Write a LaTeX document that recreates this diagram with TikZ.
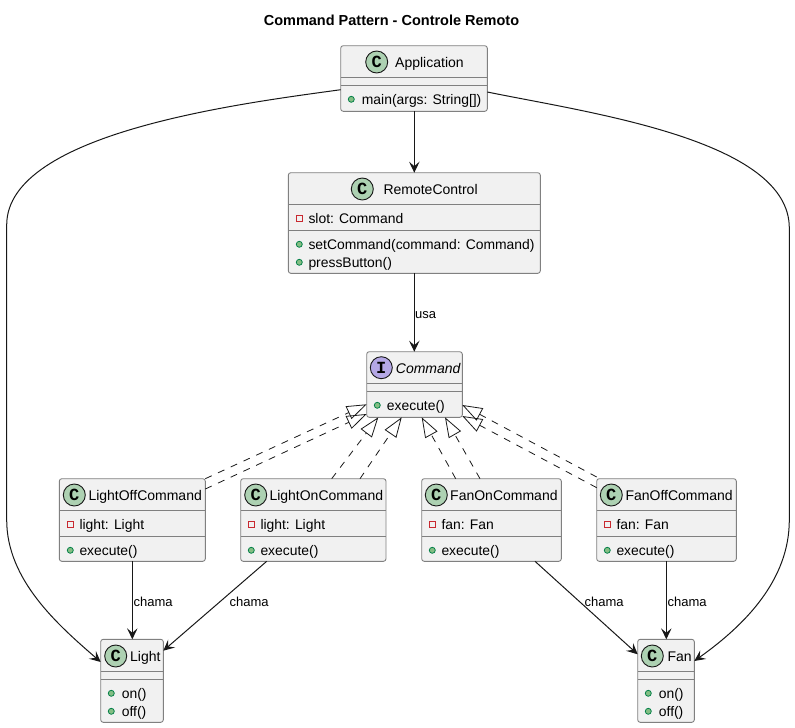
\documentclass[tikz,border=0pt]{standalone}
\usepackage{fontspec}
\setmainfont{Liberation Sans}
\newfontfamily\badgefont{Liberation Mono}
\usetikzlibrary{arrows.meta}
\definecolor{boxfill}{HTML}{F1F1F1}
\definecolor{boxline}{HTML}{808080}
\definecolor{inkline}{HTML}{181818}
\definecolor{classbadge}{HTML}{ADD1B2}
\definecolor{ifacebadge}{HTML}{B4A7E5}
\definecolor{pubfill}{HTML}{84BE84}
\definecolor{publine}{HTML}{038048}
\definecolor{privline}{HTML}{C82930}
\tikzset{
  umlbox/.style={draw=boxline,fill=boxfill,line width=0.9pt,rounded corners=2.5pt,inner sep=0pt,outer sep=0pt},
  sepline/.style={draw=boxline,line width=0.9pt},
  badge/.style={circle,draw=inkline,line width=0.9pt,minimum size=22pt,inner sep=0pt,text=black,font=\fontsize{17}{17}\selectfont\badgefont\bfseries},
  nametext/.style={anchor=base west,inner sep=0pt,text=black,font=\fontsize{14}{16}\selectfont},
  ifacetext/.style={nametext,font=\fontsize{14}{16}\selectfont\itshape},
  membertext/.style={nametext,font=\fontsize{13.9}{16}\selectfont},
  pubicon/.style={circle,draw=publine,fill=pubfill,line width=0.8pt,minimum size=6pt,inner sep=0pt},
  privicon/.style={rectangle,draw=privline,line width=0.9pt,minimum size=6pt,inner sep=0pt},
  edgetext/.style={anchor=base west,inner sep=0pt,text=black,font=\fontsize{13}{15}\selectfont},
  titletext/.style={anchor=base,inner sep=0pt,text=black,font=\fontsize{14.5}{16}\selectfont\bfseries},
  uses/.style={draw=inkline,line width=1pt,-{Stealth[length=11pt,width=10.5pt,inset=4.5pt]}},
  realizes/.style={draw=inkline,line width=0.8pt,dash pattern=on 7pt off 7pt,-{Triangle[open,length=20pt,width=14pt,line width=0.8pt]}},
}
% name, left, top, right, bottom, first separator y, second separator y
\newcommand\umlclass[7]{%
  \node[umlbox,minimum width={#4pt-#2pt},minimum height={#5pt-#3pt}] (#1) at ({(#2+#4)/2},{(#3+#5)/2}) {};
  \draw[sepline] (#1.west |- 0,#6) -- (#1.east |- 0,#6);
  \draw[sepline] (#1.west |- 0,#7) -- (#1.east |- 0,#7);
}
% name, icon x, text x, baseline, text
\newcommand\pubmember[5]{%
  \node[pubicon] (#1-icon) at (#2,#4-4.7) {};
  \node[membertext] (#1-text) at (#3,#4) {#5};
}
\newcommand\privmember[5]{%
  \node[privicon] (#1-icon) at (#2,#4-4.7) {};
  \node[membertext] (#1-text) at (#3,#4) {#5};
}
\begin{document}
\begin{tikzpicture}[x=1pt,y=-1pt]
\useasboundingbox (0,0) rectangle (795,728);
\node[titletext] (title) at (391.5,25) {Command Pattern - Controle Remoto};

% Classes
\umlclass{app}{340.7}{45.7}{487.3}{111.3}{77.3}{85.3}
\node[badge,fill=classbadge] (app-badge) at (376.7,62) {C};
\node[nametext] (app-name) at (395,67) {Application};
\pubmember{app-main}{351.3}{361.7}{104}{main(args: String[])}

\umlclass{remote}{288.3}{172.7}{540.3}{273.3}{204.3}{230.3}
\node[badge,fill=classbadge] (remote-badge) at (362.3,189) {C};
\node[nametext] (remote-name) at (383.3,194) {RemoteControl};
\privmember{remote-slot}{299.3}{308.3}{223}{slot: Command}
\pubmember{remote-set}{299.3}{308.3}{249}{setCommand(command: Command)}
\pubmember{remote-press}{299.3}{308.3}{267}{pressButton()}

\umlclass{command}{366.7}{351.7}{462.3}{417.3}{383.3}{391.3}
\node[badge,fill=ifacebadge] (command-badge) at (381.3,367.7) {I};
\node[ifacetext] (command-name) at (395.7,373) {Command};
\pubmember{command-exec}{377.3}{386.7}{410}{execute()}

\umlclass{lightoff}{59.3}{478.7}{205.3}{561.3}{510.3}{536.3}
\node[badge,fill=classbadge] (lightoff-badge) at (74.3,495) {C};
\node[nametext] (lightoff-name) at (88.3,500) {LightOffCommand};
\privmember{lightoff-light}{70.3}{79.3}{529}{light: Light}
\pubmember{lightoff-exec}{70.3}{79.3}{555}{execute()}

\umlclass{lighton}{240.7}{478.7}{386}{561.3}{510.3}{536.3}
\node[badge,fill=classbadge] (lighton-badge) at (255.7,495) {C};
\node[nametext] (lighton-name) at (269.3,500) {LightOnCommand};
\privmember{lighton-light}{251.3}{260.3}{529}{light: Light}
\pubmember{lighton-exec}{251.3}{260.3}{555}{execute()}

\umlclass{fanon}{421.7}{478.7}{561.3}{561.3}{510.3}{536.3}
\node[badge,fill=classbadge] (fanon-badge) at (436.3,495) {C};
\node[nametext] (fanon-name) at (450,500) {FanOnCommand};
\privmember{fanon-fan}{432.3}{441.3}{529}{fan: Fan}
\pubmember{fanon-exec}{432.3}{441.3}{555}{execute()}

\umlclass{fanoff}{596.7}{478.7}{736.3}{561.3}{510.3}{536.3}
\node[badge,fill=classbadge] (fanoff-badge) at (611.3,495) {C};
\node[nametext] (fanoff-name) at (625.3,500) {FanOffCommand};
\privmember{fanoff-fan}{607.3}{616.3}{529}{fan: Fan}
\pubmember{fanoff-exec}{607.3}{616.3}{555}{execute()}

\umlclass{light}{100.7}{639.3}{163.3}{722.3}{671.3}{679.3}
\node[badge,fill=classbadge] (light-badge) at (115.7,656) {C};
\node[nametext] (light-name) at (130,661) {Light};
\pubmember{light-on}{111.3}{121.7}{698}{on()}
\pubmember{light-off}{111.3}{121.7}{716}{off()}

\umlclass{fan}{637.7}{639.3}{694.3}{722.3}{671.3}{679.3}
\node[badge,fill=classbadge] (fan-badge) at (652.3,656) {C};
\node[nametext] (fan-name) at (667.3,661) {Fan};
\pubmember{fan-on}{648.3}{658.7}{698}{on()}
\pubmember{fan-off}{648.3}{658.7}{716}{off()}

% Associations
\draw[uses] (app.south -| 414.3,0) -- (remote.north -| 414.3,0);
\draw[uses] (remote.south -| 414.3,0) -- (command.north -| 414.3,0);
\node[edgetext] (usa-label) at (415,318) {usa};
\draw[uses] (app.west |- 0,89.7) .. controls (245,103) and (6.7,132) .. (6.7,225) -- (6.7,520) .. controls (6.7,580) and (58,625) .. (light.west |- 0,662);
\draw[uses] (app.east |- 0,92) .. controls (590,113) and (789.3,140) .. (789.3,228) -- (789.3,520) .. controls (789.3,580) and (745,625) .. (fan.east |- 0,661);
\draw[uses] (lightoff.south -| 132.3,0) -- (light.north -| 132.3,0);
\draw[uses] (lighton.south -| 266.7,0) -- (light.east |- 0,650.7);
\draw[uses] (fanon.south -| 535,0) -- (fan.west |- 0,654.3);
\draw[uses] (fanoff.south -| 666.3,0) -- (fan.north -| 666.3,0);
\node[edgetext] (chama-a) at (133.5,606) {chama};
\node[edgetext] (chama-b) at (229.5,606) {chama};
\node[edgetext] (chama-c) at (584.5,606) {chama};
\node[edgetext] (chama-d) at (667.5,606) {chama};

% Realizations
\draw[realizes] (lightoff.east |- 0,478.7) -- (command.west |- 0,404.3);
\draw[realizes] (lightoff.east |- 0,489) -- (command.west |- 0,414);
\draw[realizes] (lighton.north -| 331.7,0) -- (command.south -| 378.3,0);
\draw[realizes] (lighton.north -| 360,0) -- (command.south -| 401.7,0);
\draw[realizes] (fanon.north -| 455.7,0) -- (command.south -| 421.7,0);
\draw[realizes] (fanon.north -| 480,0) -- (command.south -| 445,0);
\draw[realizes] (fanoff.west |- 0,477) -- (command.east |- 0,405);
\draw[realizes] (fanoff.west |- 0,487.7) -- (command.east |- 0,416);
\end{tikzpicture}
\end{document}
